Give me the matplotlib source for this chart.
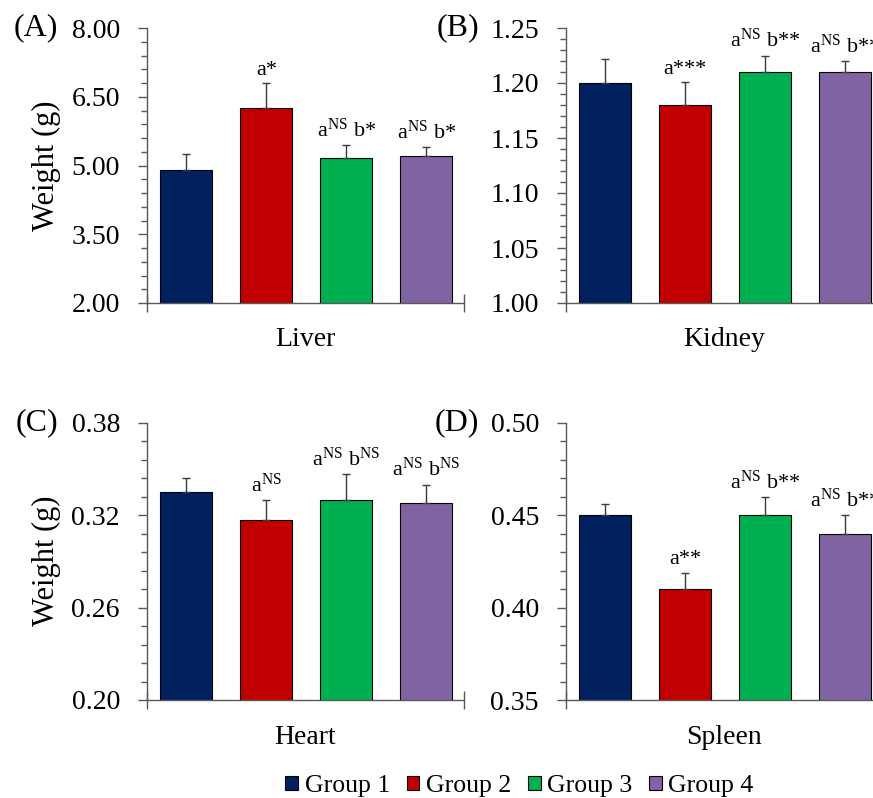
import matplotlib
matplotlib.use("Agg")
import numpy as np
import matplotlib.pyplot as plt
from matplotlib.patches import Patch
from matplotlib.ticker import FixedLocator, FormatStrFormatter

plt.rcParams['font.family'] = 'serif'
plt.rcParams['font.serif'] = ['Liberation Serif']
plt.rcParams['mathtext.fontset'] = 'custom'
plt.rcParams['mathtext.rm'] = 'Liberation Serif'
plt.rcParams['mathtext.it'] = 'Liberation Serif:italic'
plt.rcParams['mathtext.bf'] = 'Liberation Serif:bold'

groups = ["Group 1", "Group 2", "Group 3", "Group 4"]
colors = ["#002060", "#C00000", "#00B050", "#8064A2"]

organs = ["Liver", "Kidney", "Heart", "Spleen"]
panel_labels = ["(A)", "(B)", "(C)", "(D)"]

liver = [4.91, 6.26, 5.17, 5.21]
liver_err = [0.33, 0.53, 0.27, 0.20]
kidney = [1.20, 1.18, 1.21, 1.21]
kidney_err = [0.022, 0.021, 0.015, 0.010]
heart = [0.335, 0.317, 0.330, 0.328]
heart_err = [0.009, 0.013, 0.017, 0.012]
spleen = [0.45, 0.41, 0.45, 0.44]
spleen_err = [0.006, 0.009, 0.010, 0.010]

liver_sig = ["", "a*", r"a$^{\mathrm{NS}}$ b*", r"a$^{\mathrm{NS}}$ b*"]
kidney_sig = ["", "a***", r"a$^{\mathrm{NS}}$ b**", r"a$^{\mathrm{NS}}$ b**"]
heart_sig = ["", r"a$^{\mathrm{NS}}$", r"a$^{\mathrm{NS}}$ b$^{\mathrm{NS}}$", r"a$^{\mathrm{NS}}$ b$^{\mathrm{NS}}$"]
spleen_sig = ["", "a**", r"a$^{\mathrm{NS}}$ b**", r"a$^{\mathrm{NS}}$ b**"]

liver_ticks = [2.00, 3.50, 5.00, 6.50, 8.00]
kidney_ticks = [1.00, 1.05, 1.10, 1.15, 1.20, 1.25]
heart_ticks = [0.20, 0.26, 0.32, 0.38]
spleen_ticks = [0.35, 0.40, 0.45, 0.50]
minor_steps = [0.3, 0.01, 0.012, 0.01]

values = [liver, kidney, heart, spleen]
errors = [liver_err, kidney_err, heart_err, spleen_err]
sigs = [liver_sig, kidney_sig, heart_sig, spleen_sig]
yticks = [liver_ticks, kidney_ticks, heart_ticks, spleen_ticks]

W, H = 873, 798
fig = plt.figure(figsize=(W / 100, H / 100), dpi=100)

# axes boxes in pixels: left, top, width, height
boxes = [(147, 28, 317, 275), (566, 28, 317, 275),
         (147, 423, 317, 277), (566, 423, 317, 277)]

spine_col = "#595959"
x = [0, 1, 2, 3]

for i in range(4):
    l, t, w, h = boxes[i]
    ax = fig.add_axes([l / W, 1 - (t + h) / H, w / W, h / H])
    ax.bar(x, values[i], width=0.65, color=colors, edgecolor="black", linewidth=0.8, zorder=2)
    ax.errorbar(x, values[i], yerr=[[0] * 4, errors[i]], fmt="none",
                ecolor="#3a3a3a", elinewidth=1.0, capsize=3, capthick=1.0, zorder=3)
    for j in range(4):
        if sigs[i][j]:
            ax.annotate(sigs[i][j], (x[j], values[i][j] + errors[i][j]),
                        xytext=(0, 6), textcoords="offset points",
                        ha="center", va="baseline", fontsize=16, annotation_clip=False)
    lo, hi = yticks[i][0], yticks[i][-1]
    ax.set_xlim(-0.49, 3.47)
    ax.set_ylim(lo, hi)
    ax.yaxis.set_major_locator(FixedLocator(yticks[i]))
    nmin = int(round((hi - lo) / minor_steps[i]))
    ax.yaxis.set_minor_locator(FixedLocator([lo + k * minor_steps[i] for k in range(nmin + 1)]))
    ax.yaxis.set_major_formatter(FormatStrFormatter("%.2f"))
    ax.set_xticks([-0.49, 3.47])
    ax.set_xticklabels([])
    ax.tick_params(axis="x", direction="inout", length=13.5, width=1.0, color=spine_col)
    ax.tick_params(axis="y", which="major", direction="out", length=6.5, width=1.0,
                   color=spine_col, labelsize=20, pad=13)
    ax.tick_params(axis="y", which="minor", direction="out", length=4.3, width=1.0, color=spine_col)
    for s in ["top", "right"]:
        ax.spines[s].set_visible(False)
    for s in ["left", "bottom"]:
        ax.spines[s].set_color(spine_col)
        ax.spines[s].set_linewidth(1.0)
    ax.text(0.5, -37 / h, organs[i], transform=ax.transAxes, ha="center", va="center", fontsize=20)

# panel labels
fig.text(58 / W, 1 - 28 / H, "(A)", ha="right", va="center", fontsize=23)
fig.text(479 / W, 1 - 28 / H, "(B)", ha="right", va="center", fontsize=23)
fig.text(58 / W, 1 - 423 / H, "(C)", ha="right", va="center", fontsize=23)
fig.text(479 / W, 1 - 423 / H, "(D)", ha="right", va="center", fontsize=23)

# y labels
fig.text(46 / W, 1 - 166 / H, "Weight (g)", rotation=90, ha="center", va="center", fontsize=22)
fig.text(46 / W, 1 - 561 / H, "Weight (g)", rotation=90, ha="center", va="center", fontsize=22)

handles = [Patch(facecolor=c, edgecolor="black", linewidth=0.8) for c in colors]
fig.legend(handles, groups, loc="center", bbox_to_anchor=(519.5 / W, 1 - 786 / H),
           ncol=4, frameon=False, fontsize=18.5, handlelength=0.5, handleheight=0.5,
           handletextpad=0.25, columnspacing=0.65, borderpad=0, borderaxespad=0)

fig.savefig("out.png", dpi=100)
